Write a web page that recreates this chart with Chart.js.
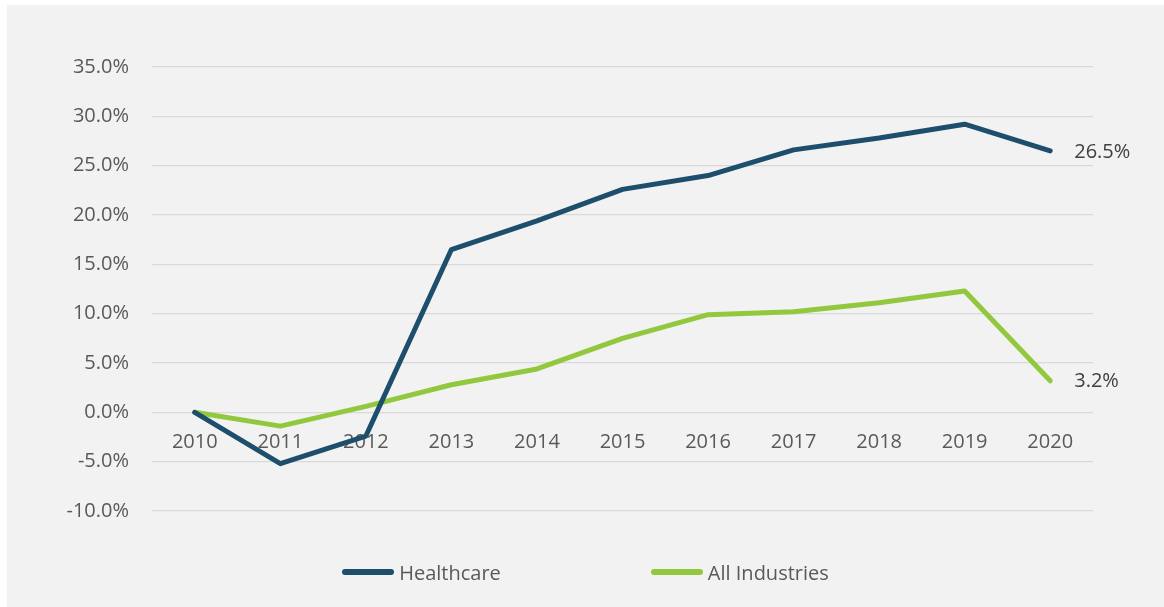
<!DOCTYPE html>
<html lang="en">
<head>
    <meta charset="UTF-8">
    <title>Healthcare vs All Industries</title>
    <script src="https://cdn.jsdelivr.net/npm/chart.js"></script>
    <style>
        html, body { margin: 0; padding: 0; background: #ffffff; }
        .panel {
            position: absolute; left: 7px; top: 5px; width: 1157px; height: 602px;
            background: #f2f2f2; font-family: "Open Sans", sans-serif;
        }
        .chart-box { position: absolute; left: 0; top: 0; width: 1157px; height: 602px; }
        .legend {
            position: absolute; left: 0; right: 0; top: 553px; height: 28px;
            display: flex; justify-content: center; align-items: center; gap: 150px;
        }
        .legend-item { display: flex; align-items: center; color: #595959; font-size: 20px; }
        .legend-line { width: 52px; height: 6px; border-radius: 3px; margin-right: 5px; }
    </style>
</head>
<body>
    <div class="panel">
        <div class="chart-box"><canvas id="growthChart"></canvas></div>
        <div class="legend" id="legend"></div>
    </div>

    <script>
        // years and cumulative growth (%)
        const years = ["2010", "2011", "2012", "2013", "2014", "2015", "2016", "2017", "2018", "2019", "2020"];
        const healthcare = [0, -5.2, -2.4, 16.5, 19.4, 22.6, 24.0, 26.6, 27.8, 29.2, 26.5];
        const allIndustries = [0, -1.4, 0.6, 2.8, 4.4, 7.5, 9.9, 10.2, 11.1, 12.3, 3.2];

        const textColor = "#595959";
        const fontSpec = { family: "'Open Sans', sans-serif", size: 20 };

        // value label next to the last point of each line
        const endLabels = {
            id: "endLabels",
            afterDatasetsDraw(chart) {
                const ctx = chart.ctx;
                ctx.save();
                ctx.font = "20px 'Open Sans', sans-serif";
                ctx.fillStyle = "#404040";
                ctx.textAlign = "left";
                ctx.textBaseline = "middle";
                chart.data.datasets.forEach((ds, i) => {
                    const pts = chart.getDatasetMeta(i).data;
                    const last = pts[pts.length - 1];
                    const v = ds.data[ds.data.length - 1];
                    ctx.fillText(v.toFixed(1) + "%", last.x + 24, last.y + 1);
                });
                ctx.restore();
            }
        };

        const chart = new Chart(document.getElementById("growthChart"), {
            type: "line",
            data: {
                labels: years,
                datasets: [
                    { label: "Healthcare", data: healthcare, borderColor: "#1d4e6b", backgroundColor: "#1d4e6b" },
                    { label: "All Industries", data: allIndustries, borderColor: "#92c83e", backgroundColor: "#92c83e" }
                ]
            },
            options: {
                responsive: true,
                maintainAspectRatio: false,
                animation: false,
                layout: { padding: { left: 0, right: 71, top: 62, bottom: 96 } },
                elements: {
                    line: { borderWidth: 5, tension: 0, borderJoinStyle: "round", borderCapStyle: "round" },
                    point: { radius: 0 }
                },
                scales: {
                    x: {
                        position: { y: 0 },
                        offset: true,
                        grid: { display: false, drawTicks: false },
                        border: { display: false },
                        ticks: { color: textColor, font: fontSpec, padding: 18, maxRotation: 0 }
                    },
                    y: {
                        min: -10,
                        max: 35,
                        grid: { color: "#d9d9d9", lineWidth: 1.3, drawTicks: false },
                        border: { display: false },
                        ticks: {
                            stepSize: 5,
                            color: textColor,
                            font: fontSpec,
                            padding: 23,
                            callback: v => v.toFixed(1) + "%"
                        },
                        afterFit: axis => { axis.width = 145; }
                    }
                },
                plugins: {
                    legend: { display: false },
                    tooltip: { enabled: false }
                }
            },
            plugins: [endLabels]
        });

        // legend built from the datasets
        const legendEl = document.getElementById("legend");
        chart.data.datasets.forEach(ds => {
            const item = document.createElement("div");
            item.className = "legend-item";
            item.innerHTML = `<span class="legend-line" style="background:${ds.borderColor}"></span>${ds.label}`;
            legendEl.appendChild(item);
        });
    </script>
</body>
</html>
